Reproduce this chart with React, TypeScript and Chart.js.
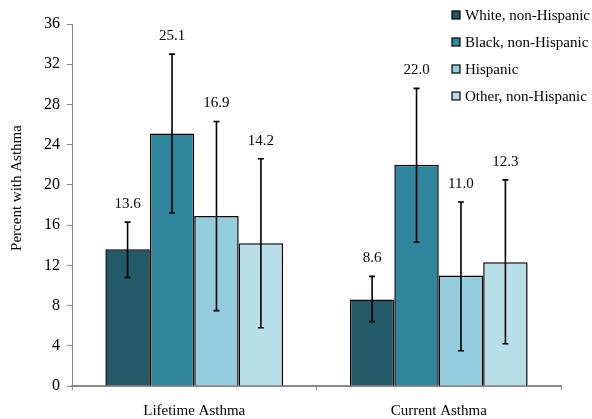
import React, { useEffect, useRef } from "react";
import { Chart, registerables } from "chart.js";

Chart.register(...registerables);

const categories = ["Lifetime Asthma", "Current Asthma"];
const groups = ["White, non-Hispanic", "Black, non-Hispanic", "Hispanic", "Other, non-Hispanic"];
const colors = ["#235a68", "#2e859c", "#94cddd", "#b8dfe8"];

// Percent with asthma, per group, for [Lifetime, Current]
const whiteValues = [13.6, 8.6];
const blackValues = [25.1, 22.0];
const hispanicValues = [16.9, 11.0];
const otherValues = [14.2, 12.3];

// 95% confidence interval bounds
const whiteLow = [10.8, 6.4];
const whiteHigh = [16.3, 10.9];
const blackLow = [17.2, 14.3];
const blackHigh = [33.0, 29.6];
const hispanicLow = [7.5, 3.5];
const hispanicHigh = [26.3, 18.3];
const otherLow = [5.8, 4.2];
const otherHigh = [22.6, 20.5];

const yTicks = [0, 4, 8, 12, 16, 20, 24, 28, 32, 36];

const seriesValues = [whiteValues, blackValues, hispanicValues, otherValues];
const seriesLow = [whiteLow, blackLow, hispanicLow, otherLow];
const seriesHigh = [whiteHigh, blackHigh, hispanicHigh, otherHigh];

const FONT = "'Liberation Serif', 'Times New Roman', serif";

const overlayPlugin = {
  id: "overlay",
  afterDatasetsDraw(chart: any) {
    const ctx = chart.ctx;
    const y = chart.scales.y;
    ctx.save();
    // error bars and value labels
    chart.data.datasets.forEach((ds: any, di: number) => {
      const meta = chart.getDatasetMeta(di);
      meta.data.forEach((bar: any, i: number) => {
        const x = bar.x;
        const yl = y.getPixelForValue(seriesLow[di][i]);
        const yh = y.getPixelForValue(seriesHigh[di][i]);
        ctx.strokeStyle = "#000";
        ctx.lineWidth = 1.6;
        ctx.beginPath();
        ctx.moveTo(x, yl);
        ctx.lineTo(x, yh);
        ctx.moveTo(x - 3, yl);
        ctx.lineTo(x + 3, yl);
        ctx.moveTo(x - 3, yh);
        ctx.lineTo(x + 3, yh);
        ctx.stroke();
        ctx.fillStyle = "#000";
        ctx.font = `15px ${FONT}`;
        ctx.textAlign = "center";
        ctx.textBaseline = "middle";
        ctx.fillText(ds.data[i].toFixed(1), x, yh - 18);
      });
    });
    // legend
    const lx = 452;
    const ly0 = 15;
    const step = 27;
    groups.forEach((g, i) => {
      const cy = ly0 + i * step;
      ctx.fillStyle = colors[i];
      ctx.fillRect(lx, cy - 4, 8, 8);
      ctx.strokeStyle = "#000";
      ctx.lineWidth = 1.2;
      ctx.strokeRect(lx, cy - 4, 8, 8);
      ctx.fillStyle = "#000";
      ctx.font = `15px ${FONT}`;
      ctx.textAlign = "left";
      ctx.textBaseline = "middle";
      ctx.fillText(g, lx + 13, cy + 1);
    });
    // y axis title
    ctx.translate(17, 188);
    ctx.rotate(-Math.PI / 2);
    ctx.font = `15px ${FONT}`;
    ctx.textAlign = "center";
    ctx.textBaseline = "middle";
    ctx.fillStyle = "#000";
    ctx.fillText("Percent with Asthma", 0, 0);
    ctx.restore();
  },
};

export default function App() {
  const ref = useRef<HTMLCanvasElement>(null);

  useEffect(() => {
    if (!ref.current) return;
    const chart = new Chart(ref.current, {
      type: "bar",
      data: {
        labels: categories,
        datasets: groups.map((g, i) => ({
          label: g,
          data: seriesValues[i],
          backgroundColor: colors[i],
          borderColor: "#000",
          borderWidth: 1.5,
          barPercentage: 1,
          categoryPercentage: 0.727,
        })),
      },
      options: {
        responsive: false,
        animation: false,
        layout: { padding: { left: 0, right: 31, top: 24, bottom: 0 } },
        plugins: {
          legend: { display: false },
          tooltip: { enabled: false },
        },
        scales: {
          x: {
            grid: { display: true, drawOnChartArea: false, drawTicks: true, tickLength: 4, color: "#888", offset: true },
            border: { display: true, color: "#888", width: 2 },
            ticks: { color: "#000", font: { family: FONT, size: 15 }, padding: 12 },
            afterFit(scale: any) {
              scale.height = 33;
            },
          },
          y: {
            min: 0,
            max: 36,
            afterBuildTicks(scale: any) {
              scale.ticks = yTicks.map((v) => ({ value: v }));
            },
            grid: { display: true, drawOnChartArea: false, drawTicks: true, tickLength: 5, color: "#888" },
            border: { display: true, color: "#888", width: 1 },
            ticks: { color: "#000", font: { family: FONT, size: 16 }, padding: 7 },
            afterFit(scale: any) {
              scale.width = 72;
            },
          },
        },
      },
      plugins: [overlayPlugin],
    });
    return () => chart.destroy();
  }, []);

  return (
    <div style={{ position: "absolute", left: 0, top: 0, width: 592, height: 419, background: "#fff" }}>
      <canvas ref={ref} width={592} height={419} style={{ display: "block" }} />
    </div>
  );
}
